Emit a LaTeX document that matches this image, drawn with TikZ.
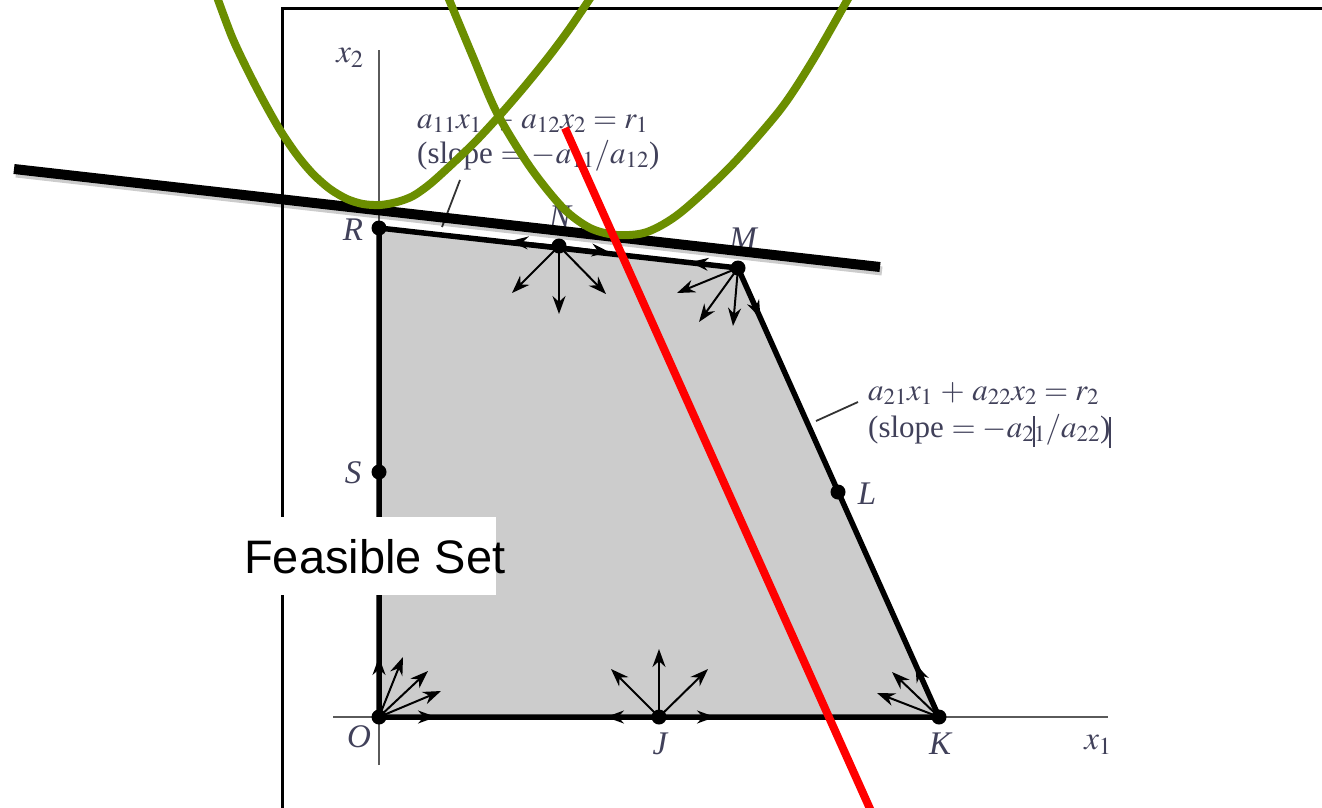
\documentclass[tikz,border=0pt]{standalone}
\usepackage{mathptmx}
\usepackage{fontspec}
\setmainfont{Liberation Serif}
\newfontfamily\arialfont{Liberation Sans}
\usetikzlibrary{arrows.meta,calc}
\definecolor{feasgray}{RGB}{204,204,204}
\definecolor{lblcol}{RGB}{65,65,90}
\definecolor{parab}{RGB}{107,142,0}
\definecolor{axisgray}{RGB}{90,90,90}
\newcommand\vbarmark[2]{\smash{\hbox to 0pt{\hss\vrule width 2pt height #1 depth #2\hss}}}
\tikzset{
  dot/.style={circle,fill=black,inner sep=0pt,minimum size=15pt},
  edgeline/.style={line width=5.5pt,line join=miter},
  arr/.style={line width=2pt,-{Stealth[length=18pt,width=13pt]}},
  axisline/.style={line width=2.3pt,draw=axisgray},
  ptlbl/.style={font=\fontsize{33}{36}\selectfont\itshape,text=lblcol,inner sep=0pt},
  eqlbl/.style={font=\fontsize{31}{36}\selectfont,text=lblcol,inner sep=0pt,anchor=base west},
  leader/.style={line width=1.8pt,draw=black!80},
  parabola/.style={draw=parab,line width=8pt},
  tangent/.style={line width=10pt,draw=black},
  redline/.style={line width=8pt,draw=red},
}
\begin{document}
\begin{tikzpicture}[x=1pt,y=-1pt]
\useasboundingbox (0,0) rectangle (1322,807);
\clip (0,0) rectangle (1322,807);
% corner points
\coordinate (O) at (379,717);
\coordinate (J) at (659,717);
\coordinate (K) at (939,717);
\coordinate (L) at (838,492);
\coordinate (M) at (738,268);
\coordinate (N) at (559,246);
\coordinate (R) at (379,228);
\coordinate (S) at (379,472);
% frame
\draw[line width=3pt] (282,810) -- (282,8) -- (1325,8);
% feasible region
\fill[feasgray] (O) -- (K) -- (M) -- (R) -- cycle;
% axes
\coordinate (x1l) at (333,717);
\coordinate (x1r) at (1108,717);
\coordinate (x2b) at (379,765);
\coordinate (x2t) at (379,50);
\draw[axisline] (x1l) -- (x1r);
\draw[axisline] (x2b) -- (x2t);
% edges
\draw[edgeline] (O) -- (K) -- (M) -- (R) -- cycle;
% arrows at O
\draw[arr] (O) -- ($(O)!60pt!(R)$);
\draw[arr] (O) -- ($(O)!57pt!(K)$);
\coordinate (o1) at (403,657);
\coordinate (o2) at (428,671);
\coordinate (o3) at (441,691);
\draw[arr] (O) -- (o1);
\draw[arr] (O) -- (o2);
\draw[arr] (O) -- (o3);
% arrows at J
\coordinate (j1) at (659,649);
\coordinate (j2) at (611,669);
\coordinate (j3) at (708,669);
\draw[arr] (J) -- (j1);
\draw[arr] (J) -- (j2);
\draw[arr] (J) -- (j3);
\draw[arr] (J) -- ($(J)!53pt!(O)$);
\draw[arr] (J) -- ($(J)!56pt!(K)$);
% arrows at K
\coordinate (k1) at (892,672);
\coordinate (k2) at (877,693);
\draw[arr] (K) -- ($(K)!58pt!(M)$);
\draw[arr] (K) -- (k1);
\draw[arr] (K) -- (k2);
% arrows at M
\coordinate (m1) at (677,293);
\coordinate (m2) at (699,322);
\coordinate (m3) at (733,326);
\draw[arr] (M) -- ($(M)!48pt!(N)$);
\draw[arr] (M) -- ($(M)!55pt!(K)$);
\draw[arr] (M) -- (m1);
\draw[arr] (M) -- (m2);
\draw[arr] (M) -- (m3);
% arrows at N
\coordinate (n1) at (512,293);
\coordinate (n2) at (559,314);
\coordinate (n3) at (606,294);
\draw[arr] (N) -- ($(N)!49pt!(R)$);
\draw[arr] (N) -- ($(N)!51pt!(M)$);
\draw[arr] (N) -- (n1);
\draw[arr] (N) -- (n2);
\draw[arr] (N) -- (n3);
% dots
\foreach \p in {O,J,K,L,M,N,R,S} \node[dot] (dot\p) at (\p) {};
% point labels
\node[ptlbl] (lR) at (353,230) {R};
\node[ptlbl] (lS) at (353,473) {S};
\node[ptlbl] (lO) at (359,737) {O};
\node[ptlbl] (lJ) at (660,744) {J};
\node[ptlbl] (lK) at (940,744) {K};
\node[ptlbl] (lL) at (867,494) {L};
\node[ptlbl] (lM) at (743,239) {M};
\node[ptlbl] (lN) at (560,217) {N};
\node[ptlbl] (lx2) at (350,58) {$x_2$};
\node[ptlbl] (lx1) at (1098,745) {$x_1$};
% equation labels
\node[eqlbl] (e1a) at (417,128) {$a_{11}x_1 \,+\, a_{12}x_2 = r_1$};
\node[eqlbl] (e1b) at (417,163) {(slope $= -a_{11}/a_{12}$)};
\node[eqlbl] (e2a) at (868,400) {$a_{21}x_1 \,+\, a_{22}x_2 = r_2$};
\node[eqlbl] (e2b) at (868,437) {(slope $= -a_{2\vbarmark{26pt}{5pt}1}/a_{22}$)\vbarmark{20pt}{11pt}};
\coordinate (ld1a) at (460,180);
\coordinate (ld1b) at (442,227);
\coordinate (ld2a) at (858,402);
\coordinate (ld2b) at (816,421);
\draw[leader] (ld1a) -- (ld1b);
\draw[leader] (ld2a) -- (ld2b);
% feasible set box
\node[fill=white,inner sep=0pt,minimum width=260pt,minimum height=78pt,anchor=north west] (fsbox) at (236,517) {};
\node[anchor=base west,inner sep=0pt,font=\arialfont\fontsize{47}{51}\selectfont] (fstext) at (244,573) {Feasible Set};
% tangent line with shadow
\coordinate (T1) at (14,169);
\coordinate (T2) at (880,267);
\draw[line width=9pt,draw=black,opacity=0.2] ([shift={(2,4)}]T1) -- ([shift={(2,4)}]T2);
\draw[tangent] (T1) -- (T2);
% parabolas
\draw[parabola] plot[smooth,tension=0.5] coordinates {(217,-3) (232,37) (247,69) (263,100) (280,130) (297,155) (313,174) (330,189) (347,199) (363,204) (380,205) (397,202) (413,196) (430,184) (450,166) (475,142) (500,115) (525,86) (550,55) (570,28) (591,-3)};
\draw[parabola] plot[smooth,tension=0.5] coordinates {(448,-3) (473,57) (497,113) (530,167) (563,208) (590,228) (617,235) (647,232) (680,213) (730,167) (780,110) (813,60) (849,-3)};
% red line
\coordinate (rd1) at (565,128);
\coordinate (rd2) at (871,811);
\draw[redline] (rd1) -- (rd2);
\end{tikzpicture}
\end{document}
